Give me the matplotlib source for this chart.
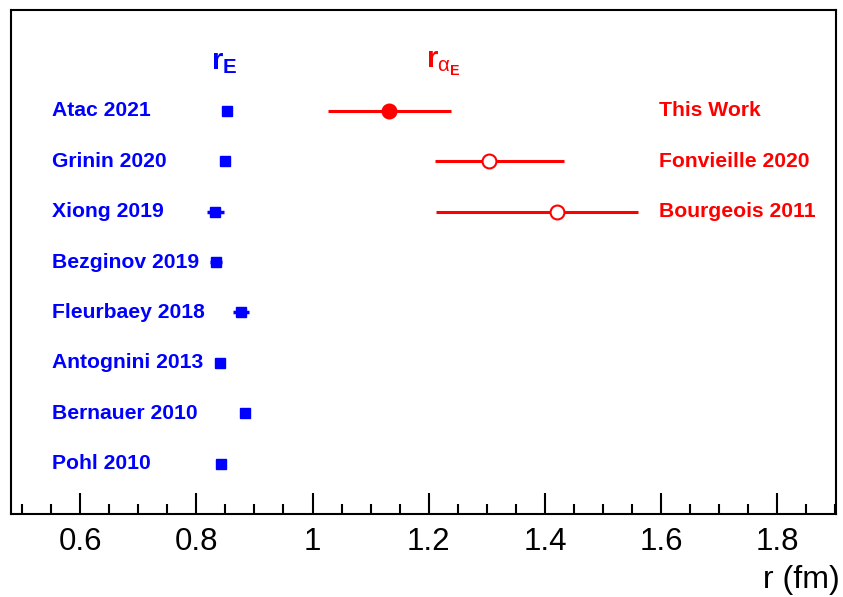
import numpy as np
import matplotlib
matplotlib.use("Agg")
import matplotlib.pyplot as plt
from matplotlib.ticker import MultipleLocator

plt.rcParams['font.family'] = ['Liberation Sans', 'DejaVu Sans']
plt.rcParams['mathtext.fontset'] = 'custom'
plt.rcParams['mathtext.rm'] = 'Liberation Sans'
plt.rcParams['mathtext.bf'] = 'Liberation Sans:bold'
plt.rcParams['mathtext.it'] = 'Liberation Sans'

# proton charge radius r_E (fm)
re_labels = ["Atac 2021", "Grinin 2020", "Xiong 2019", "Bezginov 2019",
             "Fleurbaey 2018", "Antognini 2013", "Bernauer 2010", "Pohl 2010"]
re_values = [0.8527, 0.8497, 0.8325, 0.834, 0.8768, 0.8411, 0.8842, 0.8428]
re_errors = [0.009, 0.0, 0.0143, 0.011, 0.013, 0.0, 0.0, 0.0]

# r_alpha_E (fm)
ra_labels = ["This Work", "Fonvieille 2020", "Bourgeois 2011"]
ra_values = [1.132, 1.3045, 1.421]
ra_err_lo = [0.106, 0.093, 0.208]
ra_err_hi = [0.107, 0.128, 0.139]
ra_filled = [True, False, False]

blue = "#0000ff"
red = "#ff0000"

fig = plt.figure(figsize=(8.43, 5.97), dpi=100)
ax = fig.add_axes([11 / 843, 83 / 597, 825 / 843, 504 / 597])

n = len(re_labels)
y_re = np.arange(n, 0, -1)
ax.errorbar(re_values, y_re, xerr=re_errors, fmt="s", color=blue, ms=7.2,
            elinewidth=2.5, capsize=0, zorder=3)
for lab, y in zip(re_labels, y_re):
    ax.text(0.551, y, lab, color=blue, fontsize=15.2, fontweight="bold",
            ha="left", va="center")

y_ra = y_re[:len(ra_labels)]
for v, lo, hi, filled, y, lab in zip(ra_values, ra_err_lo, ra_err_hi, ra_filled, y_ra, ra_labels):
    ax.errorbar([v], [y], xerr=[[lo], [hi]], fmt="o", color=red, ms=10,
                mfc=red if filled else "white", mec=red, mew=1.5,
                elinewidth=2.2, capsize=0, zorder=3)
    ax.text(1.596, y, lab, color=red, fontsize=15.2, fontweight="bold",
            ha="left", va="center")

ax.text(0.825, 8.97, r"$\mathbf{r_E}$", color=blue, fontsize=21, ha="left", va="center")
ax.text(1.196, 8.93, r"$\mathbf{r}_{\alpha_{\mathbf{E}}}$", color=red, fontsize=21,
        ha="left", va="center")

ax.set_xlim(0.481, 1.901)
ax.set_ylim(0, 10)
ax.set_yticks([])
ax.xaxis.set_major_locator(MultipleLocator(0.2))
ax.xaxis.set_minor_locator(MultipleLocator(0.05))
ax.set_xticks([0.6, 0.8, 1.0, 1.2, 1.4, 1.6, 1.8])
ax.set_xticklabels(["0.6", "0.8", "1", "1.2", "1.4", "1.6", "1.8"])
ax.tick_params(axis="x", which="major", direction="in", length=15, width=1.5,
               labelsize=22.5, pad=9)
ax.tick_params(axis="x", which="minor", direction="in", length=7, width=1.5)
for s in ax.spines.values():
    s.set_linewidth(1.5)

fig.text(840 / 843, 9 / 597, "r (fm)", fontsize=23, ha="right", va="baseline")

fig.savefig("out.png", dpi=100)
